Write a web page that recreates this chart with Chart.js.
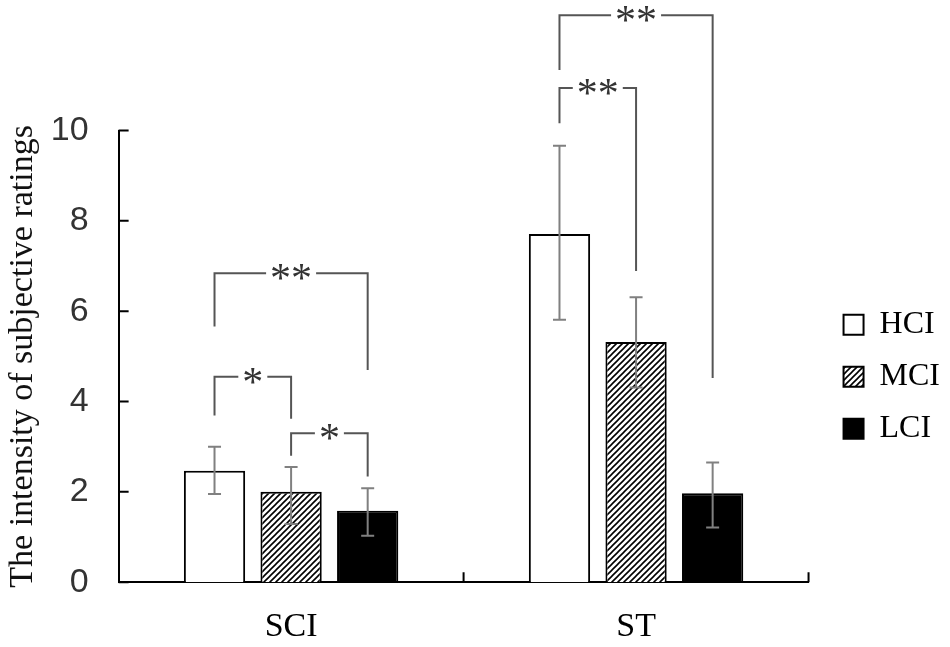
<!DOCTYPE html>
<html>
<head>
<meta charset="utf-8">
<script src="https://cdn.jsdelivr.net/npm/chart.js@4.4.1/dist/chart.umd.min.js"></script>
<style>
  html, body { margin: 0; padding: 0; background: #fff; }
  #wrap { width: 950px; height: 647px; }
</style>
</head>
<body>
<div id="wrap"><canvas id="ratings-chart"></canvas></div>
<script>
const categories = ['SCI', 'ST'];
const seriesNames = ['HCI', 'MCI', 'LCI'];

const hciValues = [2.47, 7.71];
const mciValues = [2.0, 5.32];
const lciValues = [1.58, 1.97];

// error bar ends
const hciErrLow = [1.95, 5.81];
const hciErrHigh = [3.0, 9.66];
const mciErrLow = [1.29, 4.31];
const mciErrHigh = [2.55, 6.31];
const lciErrLow = [1.03, 1.21];
const lciErrHigh = [2.08, 2.65];

// significance brackets: category, series pair, bracket height and leg ends (y units)
const bracketCategory = [0, 0, 0, 1, 1];
const bracketFrom = [0, 0, 1, 0, 0];
const bracketTo = [2, 1, 2, 2, 1];
const bracketTop = [6.84, 4.55, 3.30, 12.55, 10.94];
const bracketFromEnd = [5.66, 3.69, 2.80, 11.34, 10.16];
const bracketToEnd = [4.70, 3.62, 2.34, 4.52, 6.89];
const bracketLabel = ['**', '*', '*', '**', '**'];

const yMin = 0;
const yMax = 10;
const yStep = 2;

const serif = '"Liberation Serif", "Times New Roman", serif';
const sans = '"Liberation Sans", Arial, sans-serif';

function makeHatch() {
  const size = 6;
  const c = document.createElement('canvas');
  c.width = size;
  c.height = size;
  const g = c.getContext('2d');
  g.fillStyle = '#fff';
  g.fillRect(0, 0, size, size);
  g.strokeStyle = '#000';
  g.lineWidth = 1.6;
  g.beginPath();
  g.moveTo(0, size); g.lineTo(size, 0);
  g.moveTo(-1, 1); g.lineTo(1, -1);
  g.moveTo(size - 1, size + 1); g.lineTo(size + 1, size - 1);
  g.stroke();
  return g.createPattern(c, 'repeat');
}

const axisMarks = {
  id: 'axisMarks',
  afterDraw(chart) {
    const { ctx, chartArea, scales: { x, y } } = chart;
    ctx.save();
    ctx.strokeStyle = '#000';
    ctx.lineWidth = 2;
    ctx.beginPath();
    y.ticks.forEach((t) => {
      const py = y.getPixelForValue(t.value);
      ctx.moveTo(chartArea.left, py);
      ctx.lineTo(chartArea.left + 10, py);
    });
    for (let i = 1; i <= categories.length; i++) {
      const px = i === categories.length ? chartArea.right : (x.getPixelForValue(i - 1) + x.getPixelForValue(i)) / 2;
      ctx.moveTo(px, chartArea.bottom);
      ctx.lineTo(px, chartArea.bottom - 10);
    }
    ctx.stroke();
    ctx.restore();
  },
};

const errorAndBrackets = {
  id: 'errorAndBrackets',
  afterDatasetsDraw(chart) {
    const { ctx, scales: { y } } = chart;
    ctx.save();
    ctx.strokeStyle = '#808080';
    ctx.lineWidth = 2;
    chart.data.datasets.forEach((ds, di) => {
      chart.getDatasetMeta(di).data.forEach((bar, i) => {
        const lo = y.getPixelForValue(ds.errLow[i]);
        const hi = y.getPixelForValue(ds.errHigh[i]);
        ctx.beginPath();
        ctx.moveTo(bar.x, lo); ctx.lineTo(bar.x, hi);
        ctx.moveTo(bar.x - 6.5, lo); ctx.lineTo(bar.x + 6.5, lo);
        ctx.moveTo(bar.x - 6.5, hi); ctx.lineTo(bar.x + 6.5, hi);
        ctx.stroke();
      });
    });

    const starSize = 42;
    ctx.font = `${starSize}px ${serif}`;
    ctx.textAlign = 'center';
    ctx.textBaseline = 'alphabetic';
    bracketLabel.forEach((label, k) => {
      const cat = bracketCategory[k];
      const x1 = chart.getDatasetMeta(bracketFrom[k]).data[cat].x;
      const x2 = chart.getDatasetMeta(bracketTo[k]).data[cat].x;
      const yt = y.getPixelForValue(bracketTop[k]);
      const y1 = y.getPixelForValue(bracketFromEnd[k]);
      const y2 = y.getPixelForValue(bracketToEnd[k]);
      ctx.strokeStyle = '#555';
      ctx.lineWidth = 2;
      ctx.beginPath();
      ctx.moveTo(x1, y1); ctx.lineTo(x1, yt); ctx.lineTo(x2, yt); ctx.lineTo(x2, y2);
      ctx.stroke();
      const mid = (x1 + x2) / 2;
      const w = ctx.measureText(label).width;
      ctx.fillStyle = '#fff';
      ctx.fillRect(mid - w / 2 - 4, yt - 3, w + 8, 6);
      ctx.fillStyle = '#333';
      ctx.fillText(label, mid, yt + starSize * 0.45);
    });
    ctx.restore();
  },
};

const hatch = makeHatch();

new Chart(document.getElementById('ratings-chart'), {
  type: 'bar',
  data: {
    labels: categories,
    datasets: [
      { label: seriesNames[0], data: hciValues, errLow: hciErrLow, errHigh: hciErrHigh, backgroundColor: '#fff', borderColor: '#000', borderWidth: 2 },
      { label: seriesNames[1], data: mciValues, errLow: mciErrLow, errHigh: mciErrHigh, backgroundColor: hatch, borderColor: '#000', borderWidth: 2 },
      { label: seriesNames[2], data: lciValues, errLow: lciErrLow, errHigh: lciErrHigh, backgroundColor: '#000', borderColor: '#000', borderWidth: 2 },
    ],
  },
  options: {
    responsive: true,
    maintainAspectRatio: false,
    animation: false,
    categoryPercentage: 0.666,
    barPercentage: 0.8,
    layout: { padding: { top: 130.5, left: 3, right: 0, bottom: 0 } },
    plugins: {
      tooltip: { enabled: false },
      legend: {
        position: 'right',
        fullSize: false,
        align: 'center',
        title: { display: true, text: ' ', font: { size: 24 }, padding: { top: 4, bottom: 8 } },
        labels: { boxWidth: 20, boxHeight: 20, padding: 20, color: '#000', font: { family: serif, size: 32 } },
      },
    },
    scales: {
      x: {
        grid: { display: false, drawTicks: false },
        border: { color: '#000', width: 2 },
        ticks: { color: '#000', padding: 24, font: { family: serif, size: 34 } },
        // fit counts the tick padding twice; keep it once
        afterFit: (scale) => { scale.height -= 24; },
      },
      y: {
        min: yMin,
        max: yMax,
        grid: { display: false, drawTicks: false },
        border: { color: '#000', width: 2 },
        ticks: { stepSize: yStep, padding: 30, color: '#333', font: { family: sans, size: 34 } },
        title: {
          display: true,
          text: 'The intensity of subjective ratings',
          color: '#111',
          font: { family: serif, size: 34 },
          padding: { top: 0, bottom: 7 },
        },
        afterFit: (scale) => { scale.width -= 30; },
      },
      spacer: {
        type: 'linear',
        position: 'right',
        ticks: { display: false },
        grid: { display: false, drawTicks: false },
        border: { display: false },
        afterFit: (scale) => { scale.width = 15; },
      },
    },
  },
  plugins: [axisMarks, errorAndBrackets],
});
</script>
</body>
</html>
